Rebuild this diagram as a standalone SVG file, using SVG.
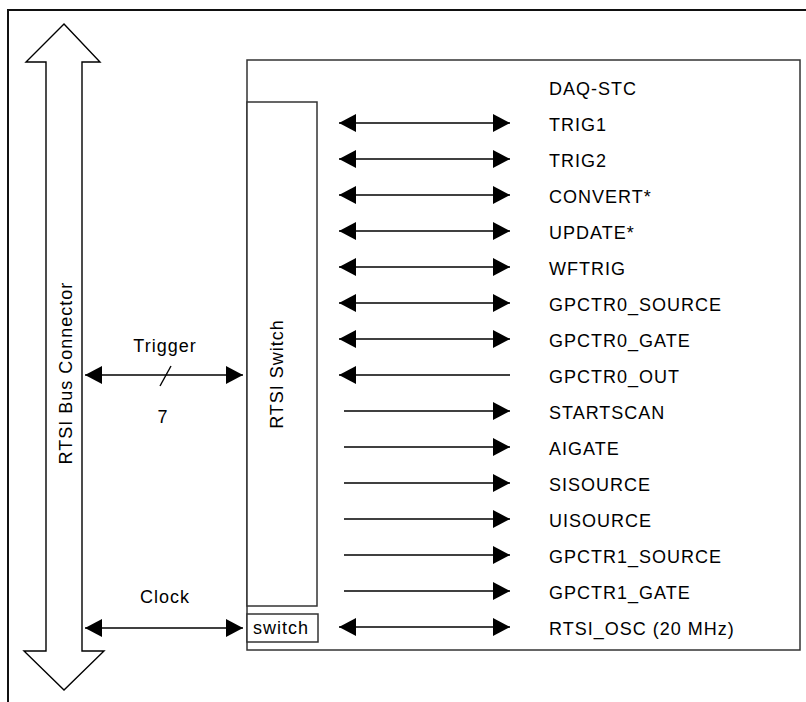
<svg xmlns="http://www.w3.org/2000/svg" width="806" height="702" viewBox="0 0 806 702">
<defs>
<marker id="ah" markerUnits="userSpaceOnUse" markerWidth="17" markerHeight="18" viewBox="0 0 17 18" refX="17" refY="9" orient="auto-start-reverse">
<path d="M0,0 L17,9 L0,18 Z" fill="#000"/>
</marker>
</defs>
<style>
text{font-family:"Liberation Sans",Arial,sans-serif;font-size:18px;letter-spacing:1px;fill:#000}
.box{fill:#fff;stroke:#333;stroke-width:1.5}
.ln{stroke:#000;stroke-width:1.4;fill:none}
.both{marker-start:url(#ah);marker-end:url(#ah)}
.right{marker-end:url(#ah)}
.left{marker-start:url(#ah)}
</style>
<rect x="0" y="0" width="806" height="702" fill="#fff"/>
<rect id="frame" x="8" y="10" width="820" height="720" fill="none" stroke="#111" stroke-width="2"/>

<g id="rtsi-bus-connector">
<polygon points="64,24 100,62 82,62 82,651 104,651 64,690 24,651 46,651 46,62 26,62" fill="#fff" stroke="#000" stroke-width="1.4"/>
<text transform="translate(71.5,373) rotate(-90)" text-anchor="middle">RTSI Bus Connector</text>
</g>

<g id="daq-stc">
<rect class="box" x="247" y="60" width="553" height="590"/>
<text x="549" y="94.5">DAQ-STC</text>
</g>

<g id="rtsi-switch">
<rect class="box" x="247" y="102" width="70" height="504"/>
<text transform="translate(283,374) rotate(-90)" text-anchor="middle">RTSI Switch</text>
</g>

<g id="switch">
<rect class="box" x="247" y="614" width="71" height="28"/>
<text x="281" y="633.5" text-anchor="middle">switch</text>
</g>

<g id="signals">
<text x="549" y="130.5">TRIG1</text>
<text x="549" y="166.5">TRIG2</text>
<text x="549" y="202.5">CONVERT*</text>
<text x="549" y="238.5">UPDATE*</text>
<text x="549" y="274.5">WFTRIG</text>
<text x="549" y="310.5">GPCTR0_SOURCE</text>
<text x="549" y="346.5">GPCTR0_GATE</text>
<text x="549" y="382.5">GPCTR0_OUT</text>
<text x="549" y="418.5">STARTSCAN</text>
<text x="549" y="454.5">AIGATE</text>
<text x="549" y="490.5">SISOURCE</text>
<text x="549" y="526.5">UISOURCE</text>
<text x="549" y="562.5">GPCTR1_SOURCE</text>
<text x="549" y="598.5">GPCTR1_GATE</text>
<text x="549" y="634.5">RTSI_OSC (20 MHz)</text>
</g>

<g id="connectors">
<line class="ln both" x1="339" y1="123" x2="510" y2="123"/>
<line class="ln both" x1="339" y1="159" x2="510" y2="159"/>
<line class="ln both" x1="339" y1="195" x2="510" y2="195"/>
<line class="ln both" x1="339" y1="231" x2="510" y2="231"/>
<line class="ln both" x1="339" y1="267" x2="510" y2="267"/>
<line class="ln both" x1="339" y1="303" x2="510" y2="303"/>
<line class="ln both" x1="339" y1="339" x2="510" y2="339"/>
<line class="ln left" x1="339" y1="375" x2="510" y2="375"/>
<line class="ln right" x1="344" y1="411" x2="510" y2="411"/>
<line class="ln right" x1="344" y1="447" x2="510" y2="447"/>
<line class="ln right" x1="344" y1="483" x2="510" y2="483"/>
<line class="ln right" x1="344" y1="519" x2="510" y2="519"/>
<line class="ln right" x1="344" y1="555" x2="510" y2="555"/>
<line class="ln right" x1="344" y1="591" x2="510" y2="591"/>
<line class="ln both" x1="339" y1="627" x2="510" y2="627"/>
<g id="trigger">
<line class="ln both" x1="85" y1="375" x2="243" y2="375"/>
<line class="ln" x1="160" y1="386" x2="171" y2="366"/>
<text x="165" y="352" text-anchor="middle">Trigger</text>
<text x="163" y="423" text-anchor="middle">7</text>
</g>
<g id="clock">
<line class="ln both" x1="85" y1="628" x2="243" y2="628"/>
<text x="165" y="603" text-anchor="middle">Clock</text>
</g>
</g>
</svg>
